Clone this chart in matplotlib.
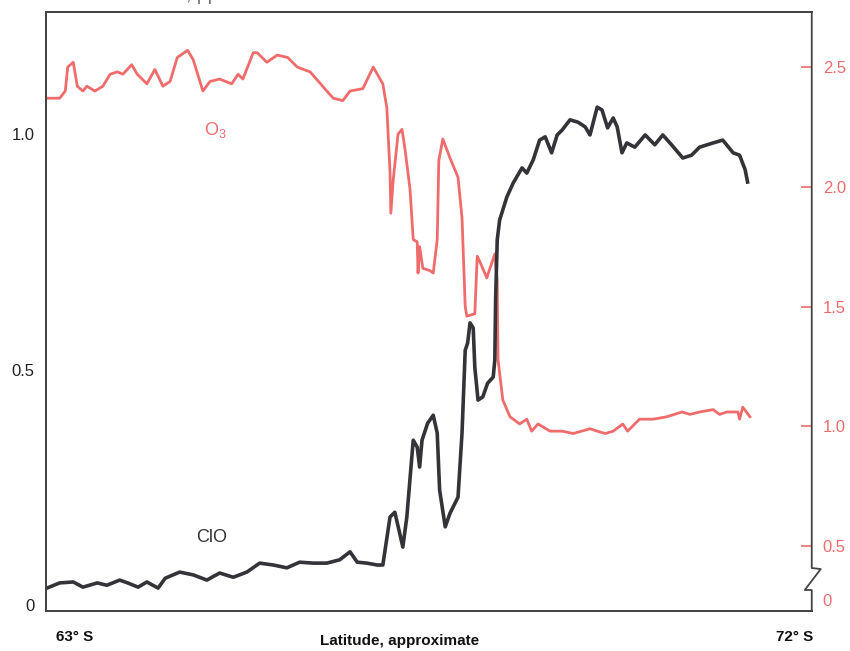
import matplotlib
matplotlib.use("Agg")
import matplotlib.pyplot as plt
import numpy as np

plt.rcParams['font.family'] = ['Liberation Sans', 'DejaVu Sans']
plt.rcParams['mathtext.default'] = 'regular'

# ozone, ppm (right axis)
o3_lat = [62.65, 62.81, 62.88, 62.91, 62.98, 63.03, 63.10, 63.15, 63.25, 63.35,
          63.44, 63.53, 63.60, 63.71, 63.78, 63.90, 64.00, 64.10, 64.19, 64.28,
          64.41, 64.48, 64.60, 64.69, 64.81, 64.96, 65.04, 65.10, 65.23, 65.28,
          65.40, 65.53, 65.66, 65.78, 65.94, 66.15, 66.23, 66.35, 66.44, 66.60,
          66.73, 66.85, 66.90, 66.94, 66.95, 66.98, 67.04, 67.09, 67.13, 67.19,
          67.23, 67.28, 67.29, 67.31, 67.35, 67.44, 67.48, 67.53, 67.55, 67.60,
          67.69, 67.79, 67.84, 67.88, 67.90, 68.00, 68.03, 68.06, 68.15, 68.25,
          68.28, 68.29, 68.35, 68.44, 68.56, 68.65, 68.71, 68.79, 68.94, 69.09,
          69.23, 69.44, 69.53, 69.63, 69.73, 69.85, 69.91, 70.06, 70.23, 70.40,
          70.59, 70.69, 70.81, 70.98, 71.06, 71.15, 71.29, 71.31, 71.35, 71.44]
o3_ppm = [2.37, 2.37, 2.40, 2.50, 2.52, 2.42, 2.40, 2.42, 2.40, 2.42,
          2.47, 2.48, 2.47, 2.51, 2.47, 2.43, 2.49, 2.42, 2.44, 2.54,
          2.57, 2.53, 2.40, 2.44, 2.45, 2.43, 2.47, 2.45, 2.56, 2.56,
          2.52, 2.55, 2.54, 2.50, 2.48, 2.40, 2.37, 2.36, 2.40, 2.41,
          2.50, 2.43, 2.33, 2.06, 1.89, 2.03, 2.22, 2.24, 2.15, 1.99,
          1.78, 1.77, 1.64, 1.75, 1.66, 1.65, 1.64, 1.78, 2.11, 2.20,
          2.12, 2.04, 1.87, 1.50, 1.46, 1.47, 1.71, 1.69, 1.62, 1.72,
          1.61, 1.28, 1.11, 1.04, 1.01, 1.03, 0.98, 1.01, 0.98, 0.98,
          0.97, 0.99, 0.98, 0.97, 0.98, 1.01, 0.98, 1.03, 1.03, 1.04,
          1.06, 1.05, 1.06, 1.07, 1.05, 1.06, 1.06, 1.03, 1.08, 1.04]

# chlorine monoxide, ppb (left axis)
clo_lat = [62.65, 62.81, 62.98, 63.10, 63.28, 63.40, 63.56, 63.66, 63.79, 63.90,
           64.04, 64.13, 64.31, 64.48, 64.65, 64.81, 64.98, 65.15, 65.31, 65.48,
           65.65, 65.81, 65.98, 66.15, 66.31, 66.44, 66.53, 66.65, 66.78, 66.85,
           66.94, 67.00, 67.06, 67.10, 67.15, 67.23, 67.28, 67.31, 67.34, 67.41,
           67.48, 67.53, 67.56, 67.63, 67.69, 67.79, 67.84, 67.88, 67.91, 67.94,
           67.98, 68.00, 68.04, 68.10, 68.16, 68.23, 68.25, 68.26, 68.28, 68.31,
           68.40, 68.48, 68.59, 68.65, 68.73, 68.81, 68.88, 68.96, 69.03, 69.09,
           69.19, 69.29, 69.38, 69.44, 69.53, 69.59, 69.66, 69.73, 69.78, 69.84,
           69.90, 70.00, 70.13, 70.25, 70.35, 70.46, 70.60, 70.71, 70.81, 70.98,
           71.10, 71.23, 71.31, 71.38, 71.41]
clo_ppb = [0.036, 0.047, 0.049, 0.038, 0.047, 0.042, 0.053, 0.047, 0.038, 0.049,
           0.036, 0.057, 0.070, 0.064, 0.053, 0.068, 0.059, 0.070, 0.089, 0.085,
           0.079, 0.091, 0.089, 0.089, 0.096, 0.113, 0.091, 0.089, 0.085, 0.085,
           0.187, 0.197, 0.153, 0.123, 0.187, 0.350, 0.335, 0.293, 0.350, 0.386,
           0.403, 0.365, 0.244, 0.166, 0.195, 0.229, 0.365, 0.541, 0.556, 0.599,
           0.588, 0.505, 0.435, 0.442, 0.471, 0.484, 0.520, 0.648, 0.775, 0.817,
           0.866, 0.896, 0.928, 0.917, 0.945, 0.987, 0.994, 0.960, 0.998, 1.008,
           1.030, 1.025, 1.015, 0.998, 1.057, 1.051, 1.013, 1.034, 1.015, 0.960,
           0.981, 0.972, 0.998, 0.977, 0.998, 0.977, 0.949, 0.955, 0.972, 0.981,
           0.987, 0.960, 0.955, 0.924, 0.898]

RED = '#f06c6c'
DARK = '#333338'

fig = plt.figure(figsize=(8.5, 6.51), dpi=100)
ax = fig.add_axes([0.054, 0.0614, 0.901, 0.9202])
ax2 = ax.twinx()

ax2.plot(o3_lat, o3_ppm, color=RED, lw=2.0, solid_joinstyle='round')
ax.plot(clo_lat, clo_ppb, color=DARK, lw=2.6, solid_joinstyle='round')
ax.set_zorder(ax2.get_zorder() + 1)
ax.patch.set_visible(False)

ax.set_xlim(62.6375, 72.2125)
ax.set_ylim(-0.0127, 1.259)
ax2.set_ylim(0.229, 2.730)

ax.set_xticks([63, 72])
ax.set_xticklabels(['63° S', '72° S'], fontweight='bold', fontsize=11)
ax.tick_params(axis='x', length=0, pad=14, colors='#111111')
ax.set_yticks([0, 0.5, 1.0])
ax.set_yticklabels(['0', '0.5', '1.0'], fontsize=12)
ax.tick_params(axis='y', length=0, pad=8, colors='#222222')

ax2.set_yticks([0.275, 0.5, 1.0, 1.5, 2.0, 2.5])
ax2.set_yticklabels(['0', '0.5', '1.0', '1.5', '2.0', '2.5'], fontsize=12)
ax2.tick_params(axis='y', direction='in', length=8, width=1.2, pad=8,
                color=RED, labelcolor=RED)
ax2.yaxis.get_major_ticks()[0].tick2line.set_visible(False)

for a in (ax, ax2):
    a.spines['right'].set_visible(False)
    for s in ('left', 'top', 'bottom'):
        a.spines[s].set_color('#444444')
        a.spines[s].set_linewidth(1.3)

# right spine with a break between 0 and 0.5
bx = [1.0, 1.0, 1.0117, 0.9909, 1.0, 1.0]
by = [1.0, 0.0718, 0.0701, 0.0351, 0.0351, 0.0]
ax.plot(bx, by, color='#444444', lw=1.3, transform=ax.transAxes, clip_on=False)

ax.text(0.221, 0.803, 'O$_3$', color=RED, fontsize=13, transform=ax.transAxes,
        ha='center', va='center')
ax.text(0.217, 0.122, 'ClO', color=DARK, fontsize=13, transform=ax.transAxes,
        ha='center', va='center')

fig.text(0.47, 0.016, 'Latitude, approximate', fontsize=11, fontweight='bold',
         ha='center', va='center', color='#111111')
# axis title, cut off at the top edge as in the original scan
fig.text(0.27, 1.0, 'Chlorine monoxide, ppb', fontsize=14, ha='right',
         va='baseline', color='#777777')

fig.savefig('out.png', dpi=100)
